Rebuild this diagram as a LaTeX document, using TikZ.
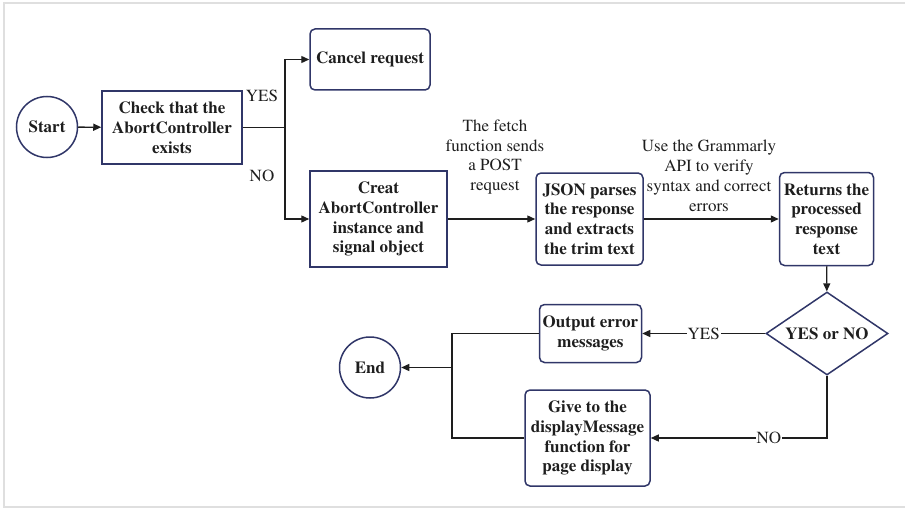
\documentclass[tikz,border=0pt]{standalone}
\usepackage[T1]{fontenc}
\renewcommand{\rmdefault}{ptm}
\usepackage{xcolor}
\usetikzlibrary{shapes.geometric,arrows.meta,positioning}
\definecolor{boxline}{RGB}{48,54,104}
\definecolor{ink}{RGB}{30,30,30}

\begin{document}
\begin{tikzpicture}[x=1pt,y=-1pt,
    plain/.style={draw=boxline, line width=1.5pt, align=center, text=ink,
        font=\bfseries\fontsize{17}{19.8}\selectfont, inner sep=2pt},
    rbox/.style={plain, rounded corners=5pt},
    term/.style={plain, circle, minimum size=61pt, inner sep=0pt},
    decide/.style={plain, diamond, aspect=1.5, inner sep=0pt},
    flow/.style={line width=1.3pt, draw=ink, -{Triangle[length=8pt,width=7pt]}},
    link/.style={line width=1.3pt, draw=ink},
    lbl/.style={align=center, text=ink, font=\fontsize{17}{19.8}\selectfont, inner sep=1pt}]

        % Frame
        \useasboundingbox (0,0) rectangle (905,508);
        \draw[gray!25, line width=1.5pt] (905,3) -- (4,3) -- (4,507) -- (905,507);

        % Top row
        \node[term] (start) at (47,127) {Start};
        \node[plain, minimum width=140pt, minimum height=73pt] (check) at (172,127.5)
            {Check that the\\AbortController\\exists};
        \node[rbox, minimum width=120pt, minimum height=61pt] (cancel) at (370,59.5)
            {Cancel request};
        \node[plain, minimum width=137pt, minimum height=96pt] (creat) at (378.5,219)
            {Creat\\AbortController\\instance and\\signal object};
        \node[rbox, minimum width=107pt, minimum height=92pt] (json) at (589.5,219)
            {JSON parses\\the response\\and extracts\\the trim text};
        \node[rbox, minimum width=94pt, minimum height=93pt] (ret) at (826.5,219)
            {Returns the\\processed\\response\\text};

        % Bottom row
        \node[decide, minimum width=122pt, minimum height=83pt] (dec) at (827,333.5) {YES or NO};
        \node[rbox, minimum width=102pt, minimum height=58pt] (out) at (590.5,333.5)
            {Output error\\messages};
        \node[rbox, minimum width=125pt, minimum height=96pt] (give) at (587.5,438)
            {Give to the\\displayMessage\\function for\\page display};
        \node[term] (end) at (370,367.5) {End};

        % Edge labels
        \node[lbl] (yesup) at (262,96) {YES};
        \node[lbl] (noup) at (262,176) {NO};
        \node[lbl] (fetch) at (495,157) {The fetch\\function sends\\a POST\\request};
        \node[lbl] (gram) at (709,176) {Use the Grammarly\\API to verify\\syntax and correct\\errors};

        % Connectors
        \coordinate (split) at (285,127.5);
        \coordinate (merge) at (452,367.5);
        \draw[flow] (start) -- (check);
        \draw[link] (check) -- (split);
        \draw[flow] (split) |- (cancel);
        \draw[flow] (split) |- (creat);
        \draw[flow] (creat) -- (json);
        \draw[flow] (json) -- (ret);
        \draw[flow] (ret) -- (dec);
        \draw[flow] (dec) -- (out) node[lbl, pos=0.5, fill=white] (yesdown) {YES};
        \draw[flow] (dec.south) |- (give) node[lbl, pos=0.665, fill=white] (nodown) {NO};
        \draw[link] (out) -| (merge);
        \draw[link] (give) -| (merge);
        \draw[flow] (merge) -- (end);
\end{tikzpicture}
\end{document}
